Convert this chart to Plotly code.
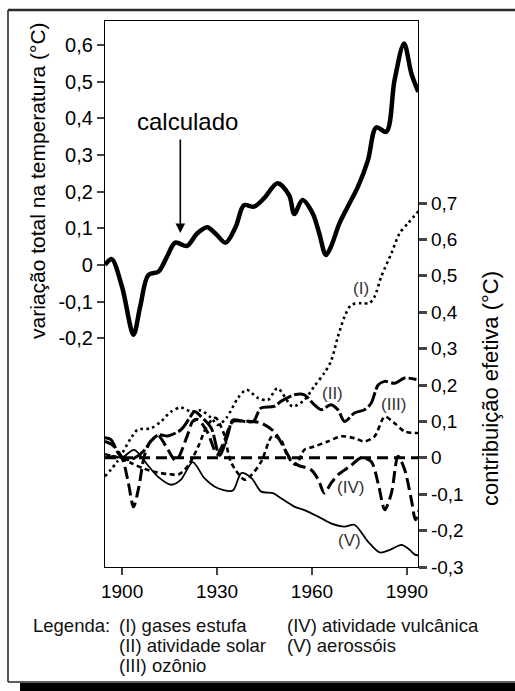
import plotly.graph_objects as go

# curva "calculado" (eixo esquerdo)
anos_calc = [1894.6, 1896.7, 1900.0, 1903.6, 1905.7, 1908.3, 1911.5, 1914.2, 1916.8, 1920.5,
             1923.7, 1926.9, 1929.5, 1932.7, 1935.9, 1938.5, 1941.7, 1944.9, 1949.1, 1952.8,
             1954.4, 1957.0, 1960.2, 1962.3, 1964.4, 1966.0, 1968.7, 1971.3, 1974.5, 1977.7,
             1980.3, 1983.5, 1986.1, 1989.1, 1991.4, 1993.6]
calculado = [0.0, 0.016, -0.06, -0.19, -0.114, -0.027, -0.018, 0.023, 0.061, 0.052,
             0.086, 0.103, 0.086, 0.061, 0.104, 0.163, 0.159, 0.182, 0.223, 0.19,
             0.139, 0.177, 0.141, 0.086, 0.027, 0.05, 0.114, 0.159, 0.213, 0.286,
             0.375, 0.363, 0.504, 0.604, 0.522, 0.472]

# (I) gases estufa
anos_gases = [1894.6, 1898.5, 1902.8, 1904.9, 1909.1, 1912.3, 1915.5, 1918.6, 1921.8, 1925.0,
              1928.2, 1930.3, 1933.0, 1936.6, 1939.3, 1943.0, 1946.1, 1949.1, 1953.9, 1957.6,
              1960.7, 1963.9, 1966.0, 1968.2, 1970.3, 1972.4, 1975.6, 1978.2, 1979.8, 1981.9,
              1985.1, 1987.7, 1990.4, 1993.6]
gases = [-0.051, -0.01, 0.054, 0.077, 0.081, 0.1, 0.127, 0.138, 0.127, 0.13,
         0.109, 0.09, 0.11, 0.164, 0.187, 0.164, 0.159, 0.191, 0.141, 0.159,
         0.196, 0.233, 0.265, 0.333, 0.388, 0.42, 0.425, 0.425, 0.443, 0.498,
         0.562, 0.617, 0.645, 0.677]

# (II) atividade solar
anos_solar = [1894.6, 1896.5, 1899.0, 1901.5, 1904.0, 1907.0, 1909.0, 1911.5, 1914.5, 1918.6,
              1921.3, 1922.9, 1925.0, 1928.2, 1930.8, 1933.4, 1935.0, 1938.7, 1941.5, 1943.8,
              1948.0, 1950.2, 1954.4, 1957.6, 1960.7, 1962.9, 1966.0, 1968.2, 1970.3, 1973.4,
              1976.6, 1978.7, 1980.9, 1983.0, 1986.1, 1989.3, 1993.0]
solar = [0.055, 0.05, 0.01, -0.005, 0.0, 0.02, 0.045, 0.063, 0.06, 0.077,
         0.109, 0.127, 0.113, 0.081, 0.006, 0.063, 0.104, 0.1, 0.1, 0.136,
         0.141, 0.155, 0.173, 0.173, 0.146, 0.132, 0.146, 0.132, 0.1, 0.123,
         0.132, 0.15, 0.2, 0.21, 0.205, 0.219, 0.215]

# (III) ozônio
anos_ozonio = [1894.6, 1899.0, 1903.0, 1907.0, 1911.0, 1915.0, 1918.0, 1921.0, 1924.0, 1927.0,
               1929.5, 1932.0, 1934.5, 1938.7, 1940.9, 1944.0, 1947.5, 1950.2, 1952.3, 1954.9,
               1957.6, 1960.7, 1965.0, 1969.2, 1973.4, 1976.6, 1979.8, 1983.0, 1986.1, 1989.3,
               1993.6]
ozonio = [0.01, 0.0, -0.015, -0.03, -0.04, -0.045, -0.045, -0.02, 0.03, 0.09,
          0.11, 0.07, -0.014, -0.06, -0.047, -0.01, 0.06, 0.049, 0.004, -0.019,
          0.022, 0.031, 0.045, 0.059, 0.054, 0.045, 0.059, 0.113, 0.095, 0.072,
          0.068]

# (IV) atividade vulcânica
anos_vulc = [1894.6, 1897.0, 1900.0, 1902.0, 1903.6, 1905.3, 1907.0, 1909.0, 1911.5, 1914.0,
             1917.0, 1920.7, 1922.3, 1924.0, 1927.0, 1930.0, 1932.0, 1935.0, 1938.0, 1941.0,
             1944.0, 1948.0, 1951.0, 1953.3, 1955.5, 1959.7, 1962.0, 1963.9, 1966.0, 1968.2,
             1971.9, 1975.6, 1978.7, 1980.9, 1983.0, 1985.1, 1987.2, 1989.3, 1991.4, 1992.7,
             1994.0]
vulcanica = [0.045, 0.035, 0.0, -0.07, -0.135, -0.08, 0.004, 0.045, 0.06, 0.03,
             -0.008, 0.063, 0.1, 0.105, 0.07, 0.01, 0.04, 0.1, 0.1, 0.1,
             0.095, 0.072, 0.03, -0.005, -0.02, -0.033, -0.06, -0.097, -0.07, -0.047,
             -0.024, 0.0, -0.01, -0.07, -0.143, -0.097, 0.004, -0.033, -0.115, -0.17,
             -0.14]

# (V) aerossóis
anos_aeros = [1894.6, 1897.2, 1899.9, 1903.8, 1908.0, 1911.2, 1915.5, 1918.6, 1922.3, 1926.0,
              1929.2, 1931.8, 1935.0, 1937.7, 1940.9, 1944.0, 1947.7, 1950.2, 1954.4, 1958.0,
              1961.8, 1966.0, 1970.3, 1973.4, 1977.7, 1981.4, 1984.6, 1988.3, 1990.9, 1992.5,
              1994.0]
aerossois = [0.0, 0.005, 0.0, 0.022, -0.019, -0.051, -0.074, -0.06, -0.012, -0.056,
             -0.079, -0.088, -0.09, -0.042, -0.056, -0.093, -0.097, -0.111, -0.134, -0.145,
             -0.161, -0.18, -0.189, -0.184, -0.23, -0.26, -0.253, -0.239, -0.253, -0.266,
             -0.268]

ticks_x = [1900, 1930, 1960, 1990]
ticks_esq = [-0.2, -0.1, 0, 0.1, 0.2, 0.3, 0.4, 0.5, 0.6]
rot_esq = ["-0,2", "-0,1", "0", "0,1", "0,2", "0,3", "0,4", "0,5", "0,6"]
ticks_dir = [-0.3, -0.2, -0.1, 0, 0.1, 0.2, 0.3, 0.4, 0.5, 0.6, 0.7]
rot_dir = ["-0,3", "-0,2", "-0,1", "0", "0,1", "0,2", "0,3", "0,4", "0,5", "0,6", "0,7"]

W, H = 515, 691
ML, MR, MT, MB = 105, 97, 21, 124
PW, PH = W - ML - MR, H - MT - MB


def px(x):
    return (x - ML) / PW


def py(y):
    return (H - MB - y) / PH


FONTE = "Liberation Sans, Arial, sans-serif"

fig = go.Figure()

componentes = [
    (anos_gases, gases, dict(width=2.6, dash="2.6px,3.4px")),
    (anos_solar, solar, dict(width=3, dash="16px,3px")),
    (anos_ozonio, ozonio, dict(width=2.6, dash="5px,3.5px")),
    (anos_vulc, vulcanica, dict(width=3, dash="12px,5px")),
    (anos_aeros, aerossois, dict(width=1.8)),
]
for xs, ys, estilo in componentes:
    fig.add_trace(go.Scatter(x=xs, y=ys, yaxis="y2", mode="lines",
                             line=dict(color="black", shape="spline", smoothing=0.8, **estilo),
                             showlegend=False, hoverinfo="skip"))

fig.add_trace(go.Scatter(x=anos_calc, y=calculado, mode="lines",
                         line=dict(color="black", width=4.5, shape="spline", smoothing=0.9),
                         showlegend=False))

# linha do zero (eixo direito)
fig.add_shape(type="line", xref="paper", x0=0, x1=1, yref="y2", y0=0, y1=0,
              line=dict(color="black", width=3, dash="11px,6px"))

# moldura externa e sombra
fig.add_shape(type="rect", xref="paper", yref="paper",
              x0=px(20), x1=px(530), y0=py(683), y1=py(695),
              fillcolor="black", line=dict(width=0))
moldura = dict(color="#2a2a2a", width=1.6)
fig.add_shape(type="line", xref="paper", yref="paper",
              x0=px(8), x1=px(530), y0=py(10), y1=py(10), line=dict(color="#2a2a2a", width=2.5))
fig.add_shape(type="line", xref="paper", yref="paper",
              x0=px(8), x1=px(8), y0=py(10), y1=py(682), line=moldura)
fig.add_shape(type="line", xref="paper", yref="paper",
              x0=px(8), x1=px(530), y0=py(682), y1=py(682), line=moldura)

anot = [
    dict(text="calculado", x=px(187), y=py(121), font_size=24),
    dict(text="variação total na temperatura (°C)", x=px(38), y=py(181), font_size=21, textangle=-90),
    dict(text="contribuição efetiva (°C)", x=px(490), y=py(389), font_size=22, textangle=-90),
    dict(text="(I)", x=px(361), y=py(288), font_size=17, font_color="#333"),
    dict(text="(II)", x=px(332), y=py(393), font_size=17, font_color="#333"),
    dict(text="(III)", x=px(394), y=py(405), font_size=17, font_color="#333"),
    dict(text="(IV)", x=px(350), y=py(487), font_size=17, font_color="#333"),
    dict(text="(V)", x=px(349), y=py(540), font_size=17, font_color="#333"),
]
for a in anot:
    fig.add_annotation(xref="paper", yref="paper", showarrow=False,
                       xanchor="center", yanchor="middle",
                       font=dict(family=FONTE, size=a.pop("font_size"),
                                 color=a.pop("font_color", "black")), **a)

legenda = [
    ("Legenda:", 31, 625),
    ("(I) gases estufa", 117, 625),
    ("(II) atividade solar", 117, 645),
    ("(III) ozônio", 117, 665),
    ("(IV) atividade vulcânica", 285, 625),
    ("(V) aerossóis", 285, 645),
]
for txt, lx, ly in legenda:
    fig.add_annotation(xref="paper", yref="paper", x=px(lx), y=py(ly), text=txt,
                       showarrow=False, xanchor="left", yanchor="middle",
                       font=dict(family=FONTE, size=18.5, color="#111"))

# seta apontando para a curva calculada
fig.add_annotation(x=1918.4, y=0.087, xref="x", yref="y", text="", showarrow=True,
                   ax=0, ay=-95, arrowhead=2, arrowsize=1.2, arrowwidth=1.6, arrowcolor="black")

fig.update_layout(
    width=W, height=H,
    margin=dict(l=ML, r=MR, t=MT, b=MB),
    paper_bgcolor="white", plot_bgcolor="white",
    font=dict(family=FONTE, color="black"),
    xaxis=dict(range=[1894.6, 1993.5], tickvals=ticks_x, ticks="outside", ticklen=7,
               tickwidth=1.5, showline=True, linecolor="black", linewidth=1.3, mirror=True,
               showgrid=False, zeroline=False, tickfont=dict(size=19)),
    yaxis=dict(range=[-0.823, 0.665], tickvals=ticks_esq, ticktext=rot_esq, ticks="outside",
               ticklen=7, tickwidth=2, showline=True, linecolor="black", linewidth=1.3,
               showgrid=False, zeroline=False, tickfont=dict(size=20)),
    yaxis2=dict(range=[-0.3, 1.2], tickvals=ticks_dir, ticktext=rot_dir, overlaying="y",
                side="right", ticks="outside", ticklen=8, tickwidth=2.5, showline=True,
                linecolor="black", linewidth=1.3, showgrid=False, zeroline=False,
                tickfont=dict(size=19)),
)

fig.write_html("out.html", config={"displayModeBar": False},
               post_script="document.body.style.margin='0';")
